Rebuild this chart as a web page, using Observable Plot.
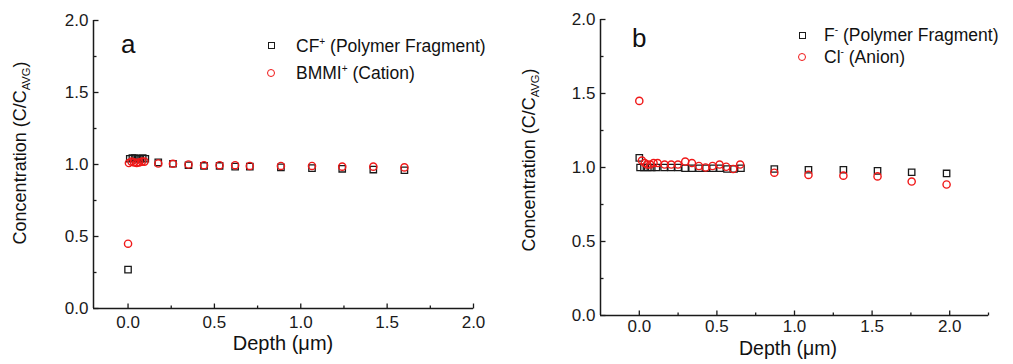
<!DOCTYPE html>
<html><head><meta charset="utf-8">
<script src="https://cdn.jsdelivr.net/npm/d3@7"></script>
<script src="https://cdn.jsdelivr.net/npm/@observablehq/plot@0.6"></script>
<style>
body{margin:0;background:#fff;font-family:"Liberation Sans",Arial,sans-serif;}
#wrap{position:relative;width:1013px;height:364px;overflow:hidden;background:#fff;}
.pan{position:absolute;top:0;}
.t{position:absolute;white-space:nowrap;color:#111;line-height:1;}
.t sup{font-size:58%;position:relative;top:-0.15em;vertical-align:top;line-height:1;}
.t sub{font-size:62%;vertical-align:-0.35em;line-height:1;}
.sym{position:absolute;box-sizing:border-box;}
.sq{width:7px;height:7px;border:1.4px solid #1a1a1a;}
.ci{width:8px;height:8px;border:1.5px solid #f01818;border-radius:50%;}
.rot{transform:translate(-50%,-50%) rotate(-90deg);}
</style>
</head><body>
<div id="wrap">
  <div id="pa" class="pan" style="left:0"></div>
  <div id="pb" class="pan" style="left:500px"></div>
</div>
<script>
// ---- Data ----
const yMajor = [0, 0.5, 1.0, 1.5, 2.0];
const yMinor = [0.25, 0.75, 1.25, 1.75];
const aXMajor = [0, 0.5, 1.0, 1.5, 2.0];
const aXMinor = [0.25, 0.75, 1.25, 1.75];
const bXMajor = [0, 0.5, 1.0, 1.5, 2.0];
const bXMinor = [0.25, 0.75, 1.25, 1.75, 2.25];

// Panel a: CF+ (Polymer Fragment), BMMI+ (Cation)
const aDepthCF = [0, 0.01, 0.025, 0.04, 0.055, 0.07, 0.085, 0.1, 0.175, 0.26, 0.35, 0.44, 0.53, 0.62, 0.705, 0.885, 1.065, 1.24, 1.42, 1.6];
const aCF      = [0.27, 1.04, 1.045, 1.045, 1.04, 1.04, 1.045, 1.04, 1.015, 1.005, 0.995, 0.99, 0.99, 0.985, 0.985, 0.98, 0.975, 0.97, 0.965, 0.96];
const aDepthBMMI = [0, 0.005, 0.02, 0.035, 0.05, 0.065, 0.08, 0.095, 0.175, 0.26, 0.35, 0.44, 0.53, 0.62, 0.705, 0.885, 1.065, 1.24, 1.42, 1.6];
const aBMMI      = [0.45, 1.01, 1.02, 1.015, 1.01, 1.015, 1.02, 1.02, 1.007, 1.005, 1.0, 0.995, 0.995, 0.995, 0.99, 0.99, 0.99, 0.985, 0.985, 0.98];

// Panel b: F- (Polymer Fragment), Cl- (Anion)
const bDepthF = [0, 0.005, 0.03, 0.055, 0.08, 0.11, 0.16, 0.205, 0.25, 0.295, 0.34, 0.385, 0.43, 0.475, 0.52, 0.565, 0.61, 0.655, 0.87, 1.09, 1.315, 1.535, 1.755, 1.98];
const bF      = [1.065, 1.0, 1.0, 1.0, 1.0, 1.0, 1.0, 1.0, 1.0, 0.995, 0.995, 0.995, 0.995, 0.995, 0.995, 0.99, 0.99, 0.995, 0.99, 0.985, 0.985, 0.977, 0.968, 0.96];
const bDepthCl = [0, 0.017, 0.035, 0.05, 0.07, 0.092, 0.118, 0.163, 0.206, 0.249, 0.296, 0.339, 0.384, 0.427, 0.472, 0.517, 0.56, 0.605, 0.65, 0.87, 1.09, 1.315, 1.535, 1.755, 1.98];
const bCl      = [1.45, 1.047, 1.03, 1.02, 1.02, 1.03, 1.03, 1.02, 1.02, 1.02, 1.04, 1.03, 1.01, 1.0, 1.01, 1.02, 1.005, 0.99, 1.02, 0.965, 0.95, 0.945, 0.94, 0.905, 0.885];

const FONT = "Liberation Sans, Arial, sans-serif";
const tickUp = len => ({draw(ctx){ ctx.moveTo(0,0); ctx.lineTo(0,-len); }});
const tickRight = len => ({draw(ctx){ ctx.moveTo(0,0); ctx.lineTo(len,0); }});

function panel(o) {
  const x0 = o.xDomain[0];
  const sq = o.sqX.map((d,i)=>({x:d, y:o.sqY[i]}));
  const ci = o.ciX.map((d,i)=>({x:d, y:o.ciY[i]}));
  return Plot.plot({
    width: o.width, height: 364,
    marginLeft: o.mL, marginRight: o.mR, marginTop: o.mT, marginBottom: o.mB,
    style: {fontFamily: FONT, fontSize: "17px", color: "#1a1a1a", background: "transparent", overflow: "visible"},
    x: {domain: o.xDomain},
    y: {domain: [0, 2]},
    marks: [
      Plot.axisX(o.xMajor, {tickSize: 0, tickPadding: o.xPad, tickFormat: d3.format(".1f"), label: null, fontSize: 17}),
      Plot.axisY(yMajor, {tickSize: 0, tickPadding: 5, tickFormat: d3.format(".1f"), label: null, fontSize: 17}),
      Plot.dot(o.xMajor, {x: d=>d, y: 0, symbol: tickUp(5), stroke: "#1a1a1a", strokeWidth: 1.3}),
      Plot.dot(o.xMinor, {x: d=>d, y: 0, symbol: tickUp(3), stroke: "#1a1a1a", strokeWidth: 1.3}),
      Plot.dot(yMajor, {x: x0, y: d=>d, symbol: tickRight(5), stroke: "#1a1a1a", strokeWidth: 1.3}),
      Plot.dot(yMinor, {x: x0, y: d=>d, symbol: tickRight(3), stroke: "#1a1a1a", strokeWidth: 1.3}),
      Plot.ruleY([0], {stroke: "#1a1a1a", strokeWidth: 1.5}),
      Plot.ruleX([x0], {stroke: "#1a1a1a", strokeWidth: 1.5}),
      Plot.dot(sq, {x: "x", y: "y", symbol: "square", r: 3.6, stroke: "#1a1a1a", fill: "none", strokeWidth: 1.3}),
      Plot.dot(ci, {x: "x", y: "y", symbol: "circle", r: 3.6, stroke: "#f01818", fill: "none", strokeWidth: 1.4})
    ]
  });
}

document.getElementById("pa").append(panel({
  xDomain: [-0.2, 2.0], width: 500, mL: 93, mR: 27, mT: 20, mB: 56, xPad: 7,
  xMajor: aXMajor, xMinor: aXMinor,
  sqX: aDepthCF, sqY: aCF, ciX: aDepthBMMI, ciY: aBMMI
}));
document.getElementById("pb").append(panel({
  xDomain: [-0.25, 2.25], width: 513, mL: 100, mR: 25, mT: 19, mB: 49, xPad: 4,
  xMajor: bXMajor, xMinor: bXMinor,
  sqX: bDepthF, sqY: bF, ciX: bDepthCl, ciY: bCl
}));

// ---- Text overlays ----
const wrap = document.getElementById("wrap");
function addText(html, left, baseline, fs, extra) {
  const d = document.createElement("div");
  d.className = "t";
  d.innerHTML = html;
  d.style.fontSize = fs + "px";
  d.style.left = left + "px";
  d.style.top = (baseline - 0.8465 * fs) + "px";
  if (extra) Object.assign(d.style, extra);
  wrap.append(d);
  return d;
}
function addCentered(html, cx, baseline, fs) {
  const d = addText(html, cx, baseline, fs);
  d.style.transform = "translateX(-50%)";
}
function addRot(html, cx, cy, fs) {
  const d = document.createElement("div");
  d.className = "t rot";
  d.innerHTML = html;
  d.style.fontSize = fs + "px";
  d.style.left = cx + "px";
  d.style.top = cy + "px";
  wrap.append(d);
}
function addSym(cls, cx, cy) {
  const d = document.createElement("div");
  d.className = "sym " + cls;
  const s = cls === "sq" ? 7 : 8;
  d.style.left = (cx - s/2) + "px";
  d.style.top = (cy - s/2) + "px";
  wrap.append(d);
}

// panel letters
addText("a", 121, 53, 26);
addText("b", 632, 46.7, 26);

// legends
addSym("sq", 271, 45.5);
addText("CF<sup>+</sup> (Polymer Fragment)", 296, 53.3, 17.5);
addSym("ci", 271, 73.3);
addText("BMMI<sup>+</sup> (Cation)", 296, 80, 17.5);

addSym("sq", 802, 35);
addText("F<sup>-</sup> (Polymer Fragment)", 824, 41.7, 17.5);
addSym("ci", 802, 57.3);
addText("Cl<sup>-</sup> (Anion)", 824, 63.5, 17.5);

// axis titles
addCentered("Depth (&mu;m)", 283, 350, 20);
addCentered("Depth (&mu;m)", 788, 355.5, 19.5);
addRot("Concentration (C/C<sub>AVG</sub>)", 22, 153, 18);
addRot("Concentration (C/C<sub>AVG</sub>)", 531, 160, 18);
</script>
</body></html>
